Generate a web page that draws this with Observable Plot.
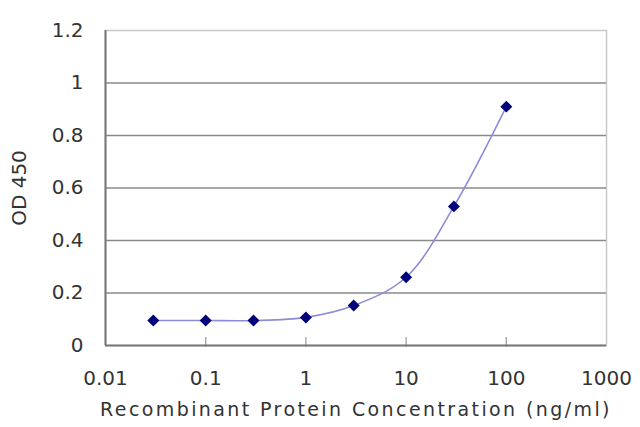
<!DOCTYPE html>
<html>
<head>
<meta charset="utf-8">
<script src="https://cdn.jsdelivr.net/npm/d3@7"></script>
<script src="https://cdn.jsdelivr.net/npm/@observablehq/plot@0.6"></script>
<style>
  html, body { margin: 0; padding: 0; background: #fff; }
  svg { display: block; }
</style>
</head>
<body>
<div id="chart"></div>
<script>
const concentrations = [0.03, 0.1, 0.3, 1, 3, 10, 30, 100];
const od450 = [0.095, 0.095, 0.095, 0.107, 0.152, 0.26, 0.53, 0.91];
const xTicks = [0.01, 0.1, 1, 10, 100, 1000];
const yTicks = [0, 0.2, 0.4, 0.6, 0.8, 1, 1.2];
const gridValues = [0.2, 0.4, 0.6, 0.8, 1];
const xTickMarks = [0.1, 1, 10, 100];
const xLabel = "Recombinant Protein Concentration (ng/ml)";
const yLabel = "OD 450";

const data = concentrations.map((c, i) => ({c, od: od450[i]}));

const chart = Plot.plot({
  width: 640,
  height: 427,
  marginLeft: 105,
  marginRight: 34,
  marginTop: 30,
  marginBottom: 82,
  style: {fontFamily: "DejaVu Sans, sans-serif", fontSize: "20px", color: "#333", background: "#fff"},
  x: {type: "log", domain: [0.01, 1000]},
  y: {domain: [0, 1.2]},
  marks: [
    Plot.frame({stroke: "#c8c8c8", strokeWidth: 1.5}),
    Plot.ruleY(gridValues, {stroke: "#8a8a8a", strokeWidth: 1.6}),
    Plot.ruleX(xTickMarks, {stroke: "#999", strokeWidth: 1.2, insetTop: 307, insetBottom: -2}),
    Plot.ruleX([0.01], {stroke: "#777", strokeWidth: 2}),
    Plot.ruleY([0], {stroke: "#777", strokeWidth: 2}),
    Plot.axisX({ticks: xTicks, tickFormat: d => String(d), tickSize: 0, tickPadding: 25,
      fill: "#333", fontSize: 20, label: null}),
    Plot.axisX({ticks: [], label: xLabel, labelAnchor: "center",
      labelOffset: 70, labelArrow: "none", fontSize: 19, fill: "#333"}),
    Plot.axisY({ticks: yTicks, tickFormat: d => String(d), tickSize: 0, tickPadding: 22,
      fill: "#333", fontSize: 20, label: yLabel, labelAnchor: "center", labelOffset: 94, labelArrow: "none"}),
    Plot.line(data, {x: "c", y: "od", stroke: "#8c8cd8", strokeWidth: 1.6, curve: "catmull-rom"}),
    Plot.dot(data, {x: "c", y: "od", symbol: "diamond2", r: 5.4, fill: "#00007a", stroke: "none"})
  ]
});
d3.select(chart).selectAll("text")
  .filter(function() { return this.textContent === xLabel; })
  .attr("letter-spacing", "2.4px")
  .style("letter-spacing", "2.4px");
document.getElementById("chart").appendChild(chart);
</script>
</body>
</html>
